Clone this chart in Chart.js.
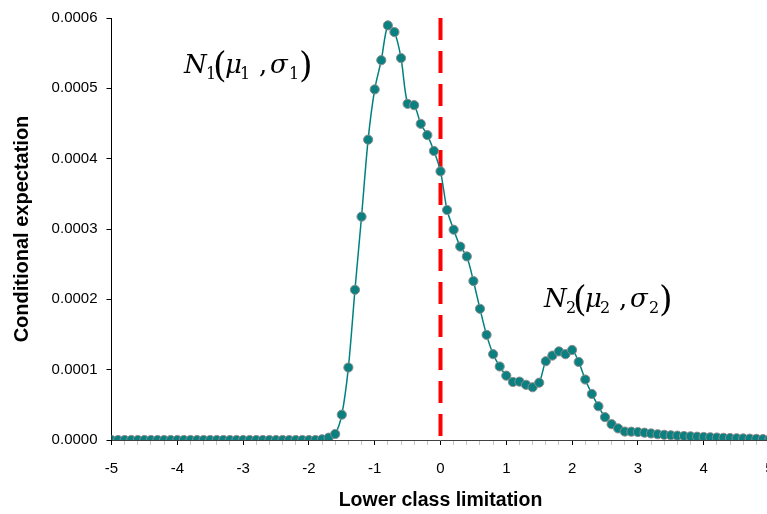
<!DOCTYPE html>
<html>
<head>
<meta charset="utf-8">
<script src="https://cdn.jsdelivr.net/npm/chart.js@4/dist/chart.umd.min.js"></script>
<style>
  html, body { margin: 0; padding: 0; background: #fff; overflow: hidden; width: 767px; height: 514px; }
  #wrap { position: relative; width: 800px; height: 514px; }
</style>
</head>
<body>
<div id="wrap"><canvas id="c"></canvas></div>
<script>
// ---- data ----
const lowerLimits = [
  -5.0,-4.9,-4.8,-4.7,-4.6,-4.5,-4.4,-4.3,-4.2,-4.1,
  -4.0,-3.9,-3.8,-3.7,-3.6,-3.5,-3.4,-3.3,-3.2,-3.1,
  -3.0,-2.9,-2.8,-2.7,-2.6,-2.5,-2.4,-2.3,-2.2,-2.1,
  -2.0,-1.9,-1.8,-1.7,-1.6,-1.5,-1.4,-1.3,-1.2,-1.1,
  -1.0,-0.9,-0.8,-0.7,-0.6,-0.5,-0.4,-0.3,-0.2,-0.1,
   0.0, 0.1, 0.2, 0.3, 0.4, 0.5, 0.6, 0.7, 0.8, 0.9,
   1.0, 1.1, 1.2, 1.3, 1.4, 1.5, 1.6, 1.7, 1.8, 1.9,
   2.0, 2.1, 2.2, 2.3, 2.4, 2.5, 2.6, 2.7, 2.8, 2.9,
   3.0, 3.1, 3.2, 3.3, 3.4, 3.5, 3.6, 3.7, 3.8, 3.9,
   4.0, 4.1, 4.2, 4.3, 4.4, 4.5, 4.6, 4.7, 4.8, 4.9,
   5.0
];
const conditionalExpectation = [
  0,0,0,0,0,0,0,0,0,0,
  0,0,0,0,0,0,0,0,0,0,
  0,0,0,0,0,0,0,0,0,0,
  0,0,0.0000010,0.0000033,0.0000085,0.0000360,0.0001030,0.0002135,0.0003175,0.0004270,
  0.0004985,0.0005400,0.0005895,0.0005800,0.0005430,0.0004780,0.0004760,0.0004495,0.0004335,0.0004110,
  0.0003820,0.0003270,0.0002990,0.0002750,0.0002610,0.0002260,0.0001865,0.0001495,0.0001220,0.0001045,
  0.0000915,0.0000825,0.0000830,0.0000785,0.0000750,0.0000815,0.0001120,0.0001200,0.0001260,0.0001220,
  0.0001280,0.0001110,0.0000860,0.0000655,0.0000480,0.0000325,0.0000225,0.0000165,0.0000120,0.0000118,
  0.0000113,0.0000104,0.0000093,0.0000082,0.0000074,0.0000067,0.0000062,0.0000057,0.0000052,0.0000047,
  0.0000043,0.0000039,0.0000035,0.0000031,0.0000028,0.0000025,0.0000022,0.0000019,0.0000016,0.0000013,
  0.0000010
];
const splitLineX = [0, 0];
const splitLineY = [0.0006, 0];
const xTickLabels = ['-5','-4','-3','-2','-1','0','1','2','3','4','5'];
const yTickLabels = ['0.0000','0.0001','0.0002','0.0003','0.0004','0.0005','0.0006'];
const componentLabels = [
  { sub: '1', x: -3.883, y: 0.000522 },
  { sub: '2', x: 1.588, y: 0.000189 }
];
const xTitle = 'Lower class limitation';
const yTitle = 'Conditional expectation';

// ---- chart ----
const mainPoints = lowerLimits.map((v, i) => ({ x: v, y: conditionalExpectation[i] }));
const splitPoints = splitLineX.map((v, i) => ({ x: v, y: splitLineY[i] }));

const SERIF = '"DejaVu Serif", "Liberation Serif", serif';
const labelPlugin = {
  id: 'componentLabels',
  afterDatasetsDraw(chart) {
    const { ctx, scales: { x, y } } = chart;
    componentLabels.forEach(a => {
      const px = x.getPixelForValue(a.x);
      const py = y.getPixelForValue(a.y);
      const parts = [
        { t: 'N', f: 'italic 26px ' + SERIF, dx: -1, dy: 0 },
        { t: a.sub, f: '16px ' + SERIF, dx: 21, dy: 6 },
        { t: '(', f: '35px ' + SERIF, dx: 28, dy: 4 },
        { t: 'μ', f: 'italic 26px ' + SERIF, dx: 40, dy: 0 },
        { t: a.sub, f: '16px ' + SERIF, dx: 55, dy: 6 },
        { t: ',', f: '26px ' + SERIF, dx: 74, dy: 0 },
        { t: 'σ', f: 'italic 26px ' + SERIF, dx: 85, dy: 0 },
        { t: a.sub, f: '16px ' + SERIF, dx: 104, dy: 6 },
        { t: ')', f: '35px ' + SERIF, dx: 114, dy: 4 }
      ];
      ctx.save();
      ctx.fillStyle = '#000';
      ctx.textAlign = 'left';
      ctx.textBaseline = 'alphabetic';
      parts.forEach(p => {
        ctx.font = p.f;
        ctx.fillText(p.t, px + p.dx, py + p.dy);
      });
      ctx.restore();
    });
  }
};

const isInt = v => Math.abs(v - Math.round(v)) < 1e-6;

new Chart(document.getElementById('c'), {
  type: 'scatter',
  data: {
    datasets: [
      {
        label: 'split',
        data: splitPoints,
        showLine: true,
        borderColor: '#ff0000',
        borderWidth: 4,
        borderDash: [22, 11],
        pointRadius: 0,
        order: 2
      },
      {
        label: 'conditional expectation',
        data: mainPoints,
        showLine: true,
        borderColor: '#008080',
        borderWidth: 1.5,
        tension: 0.3,
        pointRadius: 4.6,
        pointBackgroundColor: '#0a8080',
        pointBorderColor: '#8c8c8c',
        pointBorderWidth: 1,
        order: 1
      }
    ]
  },
  options: {
    responsive: true,
    maintainAspectRatio: false,
    animation: false,
    devicePixelRatio: 1,
    layout: { padding: { top: 16.7, left: 0, right: 30.5, bottom: 0 } },
    plugins: { legend: { display: false }, tooltip: { enabled: false } },
    scales: {
      x: {
        type: 'linear',
        min: -5, max: 5,
        afterFit: s => { s.height = 74; },
        border: { display: true, color: '#404040', width: 1 },
        grid: {
          drawOnChartArea: false,
          drawTicks: true,
          tickLength: 5,
          tickColor: c => (c.tick && isInt(c.tick.value)) ? '#000000' : '#c4c4c4',
          tickWidth: 1
        },
        ticks: {
          stepSize: 0.2,
          autoSkip: false,
          maxRotation: 0,
          padding: 15,
          color: '#000',
          font: { family: '"Liberation Sans", Arial, sans-serif', size: 15 },
          callback: v => isInt(v) ? xTickLabels[Math.round(v) + 5] : ''
        },
        title: {
          display: true,
          text: xTitle,
          color: '#000',
          font: { family: '"Liberation Sans", Arial, sans-serif', size: 19.5, weight: 'bold' },
          padding: { top: 0, bottom: 2 }
        }
      },
      y: {
        type: 'linear',
        min: 0, max: 0.0006,
        afterFit: s => { s.width = 111.5; },
        border: { display: true, color: '#000', width: 1 },
        grid: {
          drawOnChartArea: false,
          drawTicks: true,
          tickLength: 5,
          tickColor: '#000'
        },
        ticks: {
          stepSize: 0.0001,
          padding: 9,
          color: '#000',
          font: { family: '"Liberation Sans", Arial, sans-serif', size: 15 },
          callback: v => yTickLabels[Math.round(v / 0.0001)]
        },
        title: {
          display: true,
          text: yTitle,
          color: '#000',
          font: { family: '"Liberation Sans", Arial, sans-serif', size: 20, weight: 'bold' },
          padding: { top: 10, bottom: 0 }
        }
      }
    }
  },
  plugins: [labelPlugin]
});
</script>
</body>
</html>
